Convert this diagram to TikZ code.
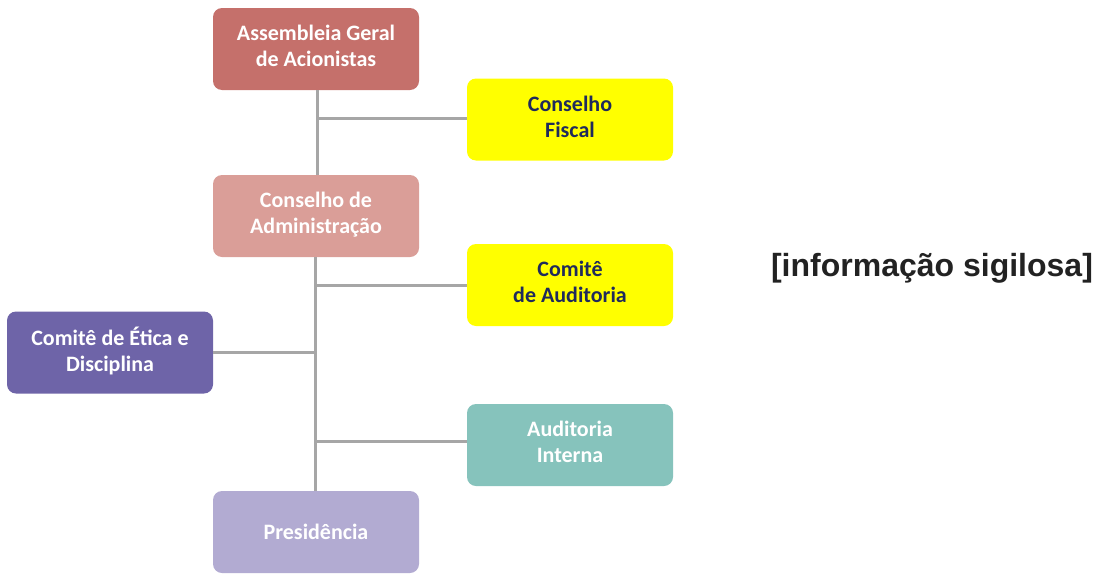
\documentclass[tikz,border=0pt]{standalone}
\usepackage{fontspec}
\setmainfont{Carlito}
\newfontfamily\arialfont{Liberation Sans}
\definecolor{cAss}{HTML}{C5706B}
\definecolor{cCA}{HTML}{DA9E98}
\definecolor{cYel}{HTML}{FFFF00}
\definecolor{cEtica}{HTML}{6E64A8}
\definecolor{cAI}{HTML}{86C3BC}
\definecolor{cPres}{HTML}{B2ABD2}
\definecolor{cNavy}{HTML}{1F2A5C}
\definecolor{cLine}{HTML}{A6A6A6}
\definecolor{cSig}{HTML}{222222}
\newcommand{\lowstrut}{\rule[-6pt]{0pt}{6pt}}
\begin{document}
\begin{tikzpicture}[x=1pt,y=-1pt,
  orgbox/.style={rounded corners=9pt, minimum width=206pt, minimum height=82pt,
    inner sep=0pt, align=center, font=\bfseries\fontsize{22}{26}\selectfont, text=white},
  link/.style={draw=cLine, line width=3pt}]
\useasboundingbox (0,0) rectangle (1095,573);
\node[orgbox, fill=cAss] (ass) at (316,49) {Assembleia Geral\\de Acionistas\lowstrut};
\node[orgbox, fill=cYel, text=cNavy] (cf) at (570,119.5) {Conselho\\Fiscal\lowstrut};
\node[orgbox, fill=cCA] (ca) at (316,216) {Conselho de\\Administração\lowstrut};
\node[orgbox, fill=cYel, text=cNavy] (cau) at (570,285) {Comitê\\de Auditoria\lowstrut};
\node[orgbox, fill=cEtica] (et) at (110,352.5) {Comitê de Ética e\\Disciplina\lowstrut};
\node[orgbox, fill=cAI] (ai) at (570,445) {Auditoria\\Interna\lowstrut};
\node[orgbox, fill=cPres] (pr) at (316,532) {Presidência};
\coordinate (j1) at (317,118);
\coordinate (j2) at (315,285);
\coordinate (j3) at (315,352);
\coordinate (j4) at (315,441);
\draw[link] (ass.south -| j1) -- (ca.north -| j1);
\draw[link] (j1) -- (cf.west |- j1);
\draw[link] (ca.south -| j2) -- (pr.north -| j2);
\draw[link] (j2) -- (cau.west |- j2);
\draw[link] (et.east |- j3) -- (j3);
\draw[link] (j4) -- (ai.west |- j4);
\node[font=\arialfont\bfseries\fontsize{32}{36}\selectfont, text=cSig, inner sep=0pt] (sig) at (932,268) {[informação sigilosa]};
\end{tikzpicture}
\end{document}
